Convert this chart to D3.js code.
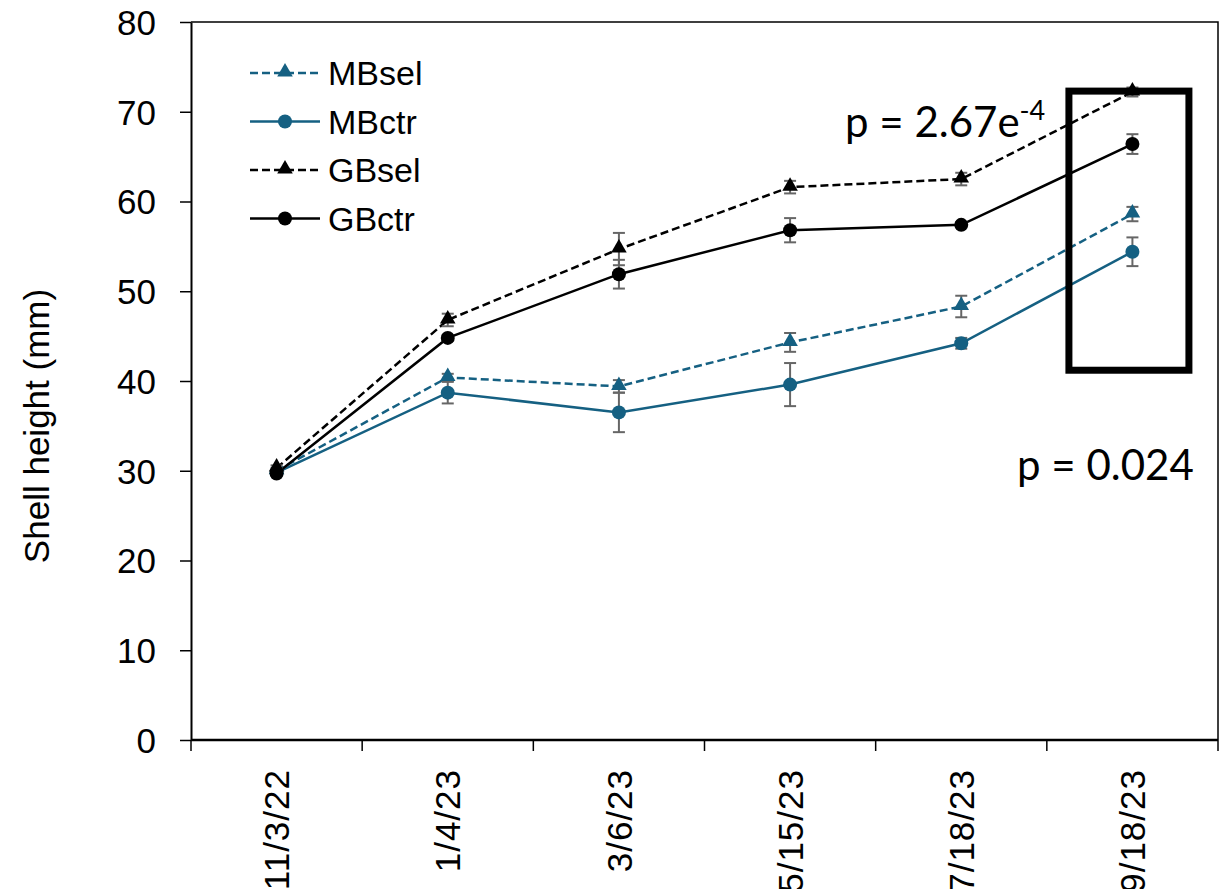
<!DOCTYPE html>
<html>
<head>
<meta charset="utf-8">
<script src="https://cdn.jsdelivr.net/npm/d3@7"></script>
<style>
  html, body { margin: 0; padding: 0; background: #fff; }
  svg { display: block; }
</style>
</head>
<body>
<svg id="chart" width="1230" height="889"></svg>
<script>
// ---- data ----
const categories = ["11/3/22", "1/4/23", "3/6/23", "5/15/23", "7/18/23", "9/18/23"];
const yTicks = [0, 10, 20, 30, 40, 50, 60, 70, 80];
const seriesNames = ["MBsel", "MBctr", "GBsel", "GBctr"];
const MBsel = [30.0, 40.4, 39.4, 44.3, 48.3, 58.6];
const MBselErr = [0.3, 0.4, 0.7, 1.05, 1.2, 0.8];
const MBctr = [29.8, 38.7, 36.5, 39.6, 44.2, 54.4];
const MBctrErr = [0.3, 1.2, 2.2, 2.4, 0.6, 1.6];
const GBsel = [30.3, 46.8, 54.7, 61.6, 62.5, 72.2];
const GBselErr = [0.3, 0.7, 1.8, 0.7, 0.7, 0.5];
const GBctr = [29.7, 44.8, 51.9, 56.8, 57.4, 66.4];
const GBctrErr = [0.2, 0.3, 1.6, 1.35, 0.3, 1.1];
const pHigh = "p = 2.67e";
const pHighExp = "-4";
const pLow = "p = 0.024";

// ---- layout ----
const svg = d3.select("#chart");
const mLeft = 191, mRight = 1218, mTop = 22, mBottom = 740;
const x = d3.scaleBand().domain(categories).range([mLeft, mRight]).padding(0);
const y = d3.scaleLinear().domain([0, 80]).range([mBottom, mTop]);
const cx = c => x(c) + x.bandwidth() / 2;

const BLUE = "#156082", BLACK = "#000000", ERR = "#666666";
const series = [
  { name: seriesNames[0], vals: MBsel, err: MBselErr, color: BLUE, dash: "8,4", marker: "triangle" },
  { name: seriesNames[1], vals: MBctr, err: MBctrErr, color: BLUE, dash: null, marker: "circle" },
  { name: seriesNames[2], vals: GBsel, err: GBselErr, color: BLACK, dash: "8,4", marker: "triangle" },
  { name: seriesNames[3], vals: GBctr, err: GBctrErr, color: BLACK, dash: null, marker: "circle" }
];

// plot border (top and right)
svg.append("path")
  .attr("d", `M${mLeft},${mTop}H${mRight}V${mBottom}`)
  .attr("fill", "none").attr("stroke", "#000").attr("stroke-width", 1.5);

// y axis
const yAxis = svg.append("g").attr("transform", `translate(${mLeft},0)`)
  .call(d3.axisLeft(y).tickValues(yTicks).tickSize(11).tickPadding(24).tickSizeOuter(0));
yAxis.select(".domain").attr("stroke-width", 2);
yAxis.selectAll(".tick line").attr("stroke-width", 1.5);
yAxis.selectAll("text").attr("font-family", "Liberation Sans, Arial, sans-serif")
  .attr("font-size", 35).attr("fill", "#000").attr("dy", "0.35em").attr("x", -35);

// x axis (ticks between categories)
const xg = svg.append("g").attr("transform", `translate(0,${mBottom})`);
xg.append("line").attr("x1", mLeft).attr("x2", mRight).attr("y1", 0).attr("y2", 0)
  .attr("stroke", "#000").attr("stroke-width", 2.5);
const boundaries = categories.map(c => x(c)).concat([x(categories[categories.length - 1]) + x.bandwidth()]);
xg.selectAll("line.tk").data(boundaries).join("line").attr("class", "tk")
  .attr("x1", d => d).attr("x2", d => d).attr("y1", 0).attr("y2", 11)
  .attr("stroke", "#000").attr("stroke-width", 1.5);
xg.selectAll("text.lbl").data(categories).join("text").attr("class", "lbl")
  .attr("transform", d => `translate(${cx(d)},29) rotate(-90)`)
  .attr("text-anchor", "end").attr("dy", "0.36em")
  .attr("font-family", "Liberation Sans, Arial, sans-serif").attr("font-size", 35)
  .attr("letter-spacing", 1)
  .text(d => d);

// y axis title
svg.append("text")
  .attr("transform", `translate(37,${(mTop + mBottom) / 2 + 45}) rotate(-90)`)
  .attr("text-anchor", "middle").attr("dy", "0.35em")
  .attr("font-family", "Liberation Sans, Arial, sans-serif").attr("font-size", 35)
  .text("Shell height (mm)");

// lines
const line = d3.line().x((d, i) => cx(categories[i])).y(d => y(d));
series.forEach(s => {
  svg.append("path").datum(s.vals).attr("d", line)
    .attr("fill", "none").attr("stroke", s.color).attr("stroke-width", 2.5)
    .attr("stroke-dasharray", s.dash);
});

// error bars
series.forEach(s => {
  const g = svg.append("g");
  s.vals.forEach((v, i) => {
    const px = cx(categories[i]);
    const y1 = y(v + s.err[i]), y2 = y(v - s.err[i]);
    g.append("line").attr("x1", px).attr("x2", px).attr("y1", y1).attr("y2", y2)
      .attr("stroke", ERR).attr("stroke-width", 2);
    [y1, y2].forEach(yy => g.append("line").attr("x1", px - 6).attr("x2", px + 6)
      .attr("y1", yy).attr("y2", yy).attr("stroke", ERR).attr("stroke-width", 2));
  });
});

// markers
const tri = d3.symbol().type(d3.symbolTriangle).size(105);
function drawMarker(g, type, px, py, color) {
  if (type === "circle") {
    g.append("circle").attr("cx", px).attr("cy", py).attr("r", 7).attr("fill", color);
  } else {
    g.append("path").attr("d", tri()).attr("transform", `translate(${px},${py - 1})`).attr("fill", color);
  }
}
series.forEach(s => {
  const g = svg.append("g");
  s.vals.forEach((v, i) => drawMarker(g, s.marker, cx(categories[i]), y(v), s.color));
});

// legend
const lg = svg.append("g");
series.forEach((s, i) => {
  const ly = 73 + i * 48.5;
  lg.append("line").attr("x1", 250).attr("x2", 320).attr("y1", ly).attr("y2", ly)
    .attr("stroke", s.color).attr("stroke-width", 2.5).attr("stroke-dasharray", s.dash);
  drawMarker(lg, s.marker, 285, ly, s.color);
  lg.append("text").attr("x", 328).attr("y", ly).attr("dy", "0.36em")
    .attr("font-family", "Liberation Sans, Arial, sans-serif").attr("font-size", 34)
    .text(s.name);
});

// annotation box around last date
const lastC = categories[categories.length - 1];
svg.append("rect")
  .attr("x", cx(lastC) - 63.5).attr("y", y(72.3))
  .attr("width", 120).attr("height", y(41.2) - y(72.3))
  .attr("fill", "none").attr("stroke", "#000").attr("stroke-width", 7);

// p-values
const pt = svg.append("text").attr("x", 845).attr("y", 137)
  .attr("font-family", "Lato, Open Sans, sans-serif").attr("font-size", 42).attr("fill", "#000");
pt.append("tspan").text(pHigh);
pt.append("tspan").attr("font-size", 27).attr("dy", -17).text(pHighExp);

svg.append("text").attr("x", 1017).attr("y", 480)
  .attr("font-family", "Lato, Open Sans, sans-serif").attr("font-size", 42).attr("fill", "#000")
  .text(pLow);
</script>
</body>
</html>
